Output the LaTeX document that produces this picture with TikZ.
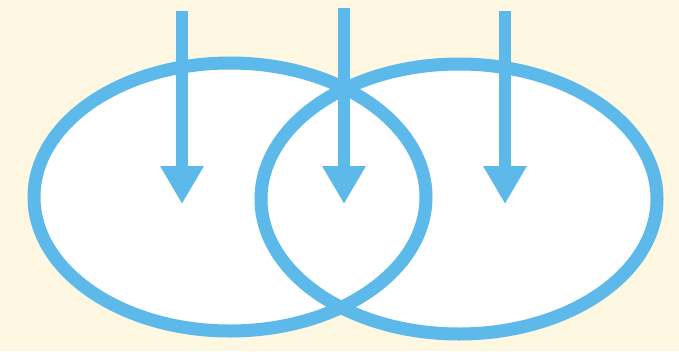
\documentclass[tikz,border=0pt]{standalone}
\usetikzlibrary{shapes.geometric,arrows.meta}
\definecolor{bg}{HTML}{FEF8E3}
\definecolor{sky}{HTML}{5CB9E9}
\tikzset{
  ring/.style={ellipse, draw=sky, fill=white, line width=13pt, inner sep=0pt},
  drop/.style={draw=sky, line width=12pt, -{Triangle[width=41pt,length=38pt]}, sky}
}
\begin{document}
\begin{tikzpicture}[x=1pt,y=-1pt]
  \fill[bg] (0,0) rectangle (679,351);
  \useasboundingbox (0,0) rectangle (679,351);
  % fills first
  \node[ring, draw=none, minimum width=392pt, minimum height=268pt] (Lf) at (230,197) {};
  \node[ring, draw=none, minimum width=396pt, minimum height=270pt] (Rf) at (459,199) {};
  % outlines
  \node[ring, fill=none, minimum width=392pt, minimum height=268pt] (L) at (230,197) {};
  \node[ring, fill=none, minimum width=396pt, minimum height=270pt] (R) at (459,199) {};
  % arrows
  \coordinate (s1) at (182,11);  \coordinate (t1) at (182,204);
  \coordinate (s2) at (344,8);   \coordinate (t2) at (344,204);
  \coordinate (s3) at (505,11);  \coordinate (t3) at (505,204);
  \draw[drop] (s1) -- (t1);
  \draw[drop] (s2) -- (t2);
  \draw[drop] (s3) -- (t3);
\end{tikzpicture}
\end{document}
